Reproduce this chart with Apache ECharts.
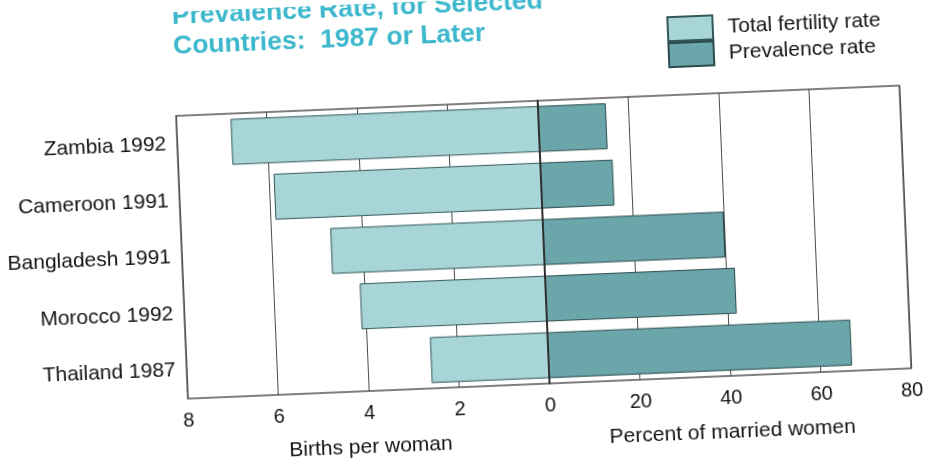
<!DOCTYPE html>
<html><head><meta charset="utf-8">
<script src="https://cdn.jsdelivr.net/npm/echarts@6/dist/echarts.min.js"></script>
<style>
html,body{margin:0;padding:0;background:#fff;overflow:hidden}
#c{width:925px;height:459px;transform:rotate(-2.4deg);transform-origin:50% 50%;}
</style></head><body><div id="c"></div>
<script>
const categories = ['Zambia 1992', 'Cameroon 1991', 'Bangladesh 1991', 'Morocco 1992', 'Thailand 1987'];
const fertility = [6.8, 5.9, 4.7, 4.1, 2.6];
const prevalence = [15, 16, 40, 42, 67];
const fertilityTicks = [8, 6, 4, 2];
const prevalenceTicks = [0, 20, 40, 60, 80];
const titleLines = ['Prevalence Rate, for Selected', 'Countries:  1987 or Later'];
const legendNames = ['Total fertility rate', 'Prevalence rate'];
const axisNames = ['Births per woman', 'Percent of married women'];

const FONT = '"Liberation Sans", Arial, Helvetica, sans-serif';
const TXT = '#141414';
const chart = echarts.init(document.getElementById('c'));
const gridCommon = {top: 104, height: 284, show: true, borderColor: '#555', borderWidth: 1.5, backgroundColor: 'transparent'};
const splitLine = {show: true, lineStyle: {color: '#4a4a4a', width: 1}};
const labelStyle = {margin: 12, fontSize: 20, color: TXT, fontFamily: FONT};
const nameStyle = {fontSize: 21, color: TXT, fontFamily: FONT};

chart.setOption({
  animation: false,
  backgroundColor: '#fff',
  title: {
    text: titleLines.join('\n'), left: 181, top: -10, padding: 0,
    textStyle: {fontSize: 26.5, fontWeight: 'bold', color: '#3cb7cc', lineHeight: 30, fontFamily: FONT}
  },
  legend: {
    orient: 'vertical', left: 675, top: 25, padding: 0,
    itemWidth: 45, itemHeight: 24, itemGap: 0, icon: 'rect', selectedMode: false,
    data: legendNames,
    textStyle: {fontSize: 21, color: TXT, fontFamily: FONT, lineHeight: 24, padding: [0, 0, 0, 10]}
  },
  grid: [
    Object.assign({left: 181, width: 362}, gridCommon),
    Object.assign({left: 543, width: 362}, gridCommon)
  ],
  xAxis: [
    {gridIndex: 0, type: 'value', min: 0, max: 8, interval: 2, inverse: true,
     axisLine: {show: false}, axisTick: {show: false}, splitLine: splitLine,
     axisLabel: Object.assign({formatter: v => fertilityTicks.includes(v) ? String(v) : ''}, labelStyle),
     name: axisNames[0], nameLocation: 'middle', nameGap: 46, nameTextStyle: nameStyle},
    {gridIndex: 1, type: 'value', min: 0, max: 80, interval: 20,
     axisLine: {show: false}, axisTick: {show: false}, splitLine: splitLine,
     axisLabel: Object.assign({formatter: v => prevalenceTicks.includes(v) ? String(v) : ''}, labelStyle),
     name: axisNames[1], nameLocation: 'middle', nameGap: 46, nameTextStyle: nameStyle}
  ],
  yAxis: [
    {gridIndex: 0, type: 'category', data: categories, inverse: true,
     axisLine: {show: false}, axisTick: {show: false},
     axisLabel: {margin: 11, fontSize: 21, color: TXT, fontFamily: FONT}},
    {gridIndex: 1, type: 'category', data: categories, inverse: true, z: 5,
     axisLine: {show: true, lineStyle: {color: '#2f2f2f', width: 2}}, axisTick: {show: false},
     axisLabel: {show: false}}
  ],
  series: [
    {type: 'bar', name: legendNames[0], xAxisIndex: 0, yAxisIndex: 0, data: fertility, barWidth: 46,
     itemStyle: {color: '#a8d6d8', borderColor: '#34585a', borderWidth: 1}},
    {type: 'bar', name: legendNames[1], xAxisIndex: 1, yAxisIndex: 1, data: prevalence, barWidth: 46,
     itemStyle: {color: '#6aa6aa', borderColor: '#2a4a4c', borderWidth: 1}}
  ]
});
</script></body></html>
